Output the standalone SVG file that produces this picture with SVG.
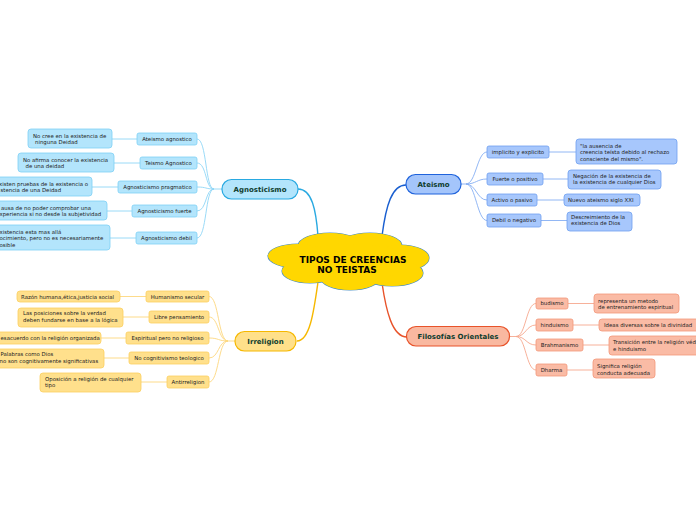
<svg xmlns="http://www.w3.org/2000/svg" width="696" height="520" viewBox="0 0 696 520">
<defs>
<style>
text{font-family:"DejaVu Sans","Liberation Sans",sans-serif;font-size:5.4px;fill:#222}
.main{font-size:7px;font-weight:bold;fill:#0f3d2e;text-anchor:middle}
.c{text-anchor:middle}
.ctr{font-size:9px;font-weight:bold;fill:#000;text-anchor:middle}
.ag{fill:#b3e5fc;stroke:#7fd0f5;stroke-width:0.8}
.at{fill:#a7c7fc;stroke:#6f9ff0;stroke-width:0.8}
.ir{fill:#ffe08c;stroke:#fbcf60;stroke-width:0.8}
.fo{fill:#fabba5;stroke:#f3977a;stroke-width:0.8}
.lag{fill:none;stroke:#8fd6f6;stroke-width:0.9}
.lat{fill:none;stroke:#86aff3;stroke-width:0.9}
.lir{fill:none;stroke:#fdd77e;stroke-width:0.9}
.lfo{fill:none;stroke:#f6a88e;stroke-width:0.9}
</style>
</defs>
<rect width="696" height="520" fill="#fff"/>
<g id="connectors">
<path d="M298,189 C312,189 316,210 318,236" fill="none" stroke="#29a9e1" stroke-width="1.4"/>
<path d="M406,185 C392,185 386,205 382,236" fill="none" stroke="#1a5fd0" stroke-width="1.4"/>
<path d="M297,341 C310,341 314,310 318,282" fill="none" stroke="#f6b800" stroke-width="1.4"/>
<path d="M382,283 C386,310 392,337 407,337" fill="none" stroke="#e8532a" stroke-width="1.4"/>
<g class="lag">
<path d="M214,189 H222"/>
<path d="M197,139 C207,139 205,189 214,189"/>
<path d="M197,163 C207,163 205,189 214,189"/>
<path d="M197,187 C207,187 205,189 214,189"/>
<path d="M197,211 C207,211 205,189 214,189"/>
<path d="M197,238 C207,238 205,189 214,189"/>
<path d="M112,139 H137 M114,163 H140 M92,187 H118 M107,211 H132 M110,238 H136"/>
</g>
<g class="lir">
<path d="M228,341 H235"/>
<path d="M209,296.5 C219,296.5 218,341 228,341"/>
<path d="M209,317 C219,317 218,341 228,341"/>
<path d="M209,338 C219,338 218,341 228,341"/>
<path d="M209,358 C219,358 218,341 228,341"/>
<path d="M209,382 C219,382 218,341 228,341"/>
<path d="M120,296.5 H146 M123,317 H149 M101,338 H126 M104,358 H129 M141,382 H167"/>
</g>
<g class="lat">
<path d="M461,184 H466"/>
<path d="M466,184 C476,184 477,152 487,152"/>
<path d="M466,184 C476,184 477,179 487,179"/>
<path d="M466,184 C476,184 477,200 487,200"/>
<path d="M466,184 C476,184 477,220.5 487,220.5"/>
<path d="M549,152 H576 M543,179 H568 M537,200 H564 M541,220.5 H567"/>
</g>
<g class="lfo">
<path d="M510,336.5 H516"/>
<path d="M516,336.5 C526,336.5 526,303.5 536,303.5"/>
<path d="M516,336.5 C526,336.5 526,325 536,325"/>
<path d="M516,336.5 C526,336.5 526,345 536,345"/>
<path d="M516,336.5 C526,336.5 526,370 536,370"/>
<path d="M568,303.5 H594 M573,325 H599 M583,345 H609 M567,370 H593"/>
</g>
</g>
<g id="center">
<g fill="#ffd700" stroke="#4a8fc4" stroke-width="1.2">
<ellipse cx="330" cy="246" rx="32" ry="13"/>
<ellipse cx="370" cy="246" rx="32" ry="13"/>
<ellipse cx="298" cy="256" rx="30" ry="12"/>
<ellipse cx="400" cy="258" rx="29" ry="13"/>
<ellipse cx="310" cy="271" rx="28" ry="12"/>
<ellipse cx="350" cy="277" rx="30" ry="13"/>
<ellipse cx="392" cy="273" rx="31" ry="13"/>
</g>
<g fill="#ffd700">
<ellipse cx="330" cy="246" rx="32" ry="13"/>
<ellipse cx="370" cy="246" rx="32" ry="13"/>
<ellipse cx="298" cy="256" rx="30" ry="12"/>
<ellipse cx="400" cy="258" rx="29" ry="13"/>
<ellipse cx="310" cy="271" rx="28" ry="12"/>
<ellipse cx="350" cy="277" rx="30" ry="13"/>
<ellipse cx="392" cy="273" rx="31" ry="13"/>
<ellipse cx="350" cy="262" rx="62" ry="18"/>
</g>
<text class="ctr" x="353" y="262.5">TIPOS DE CREENCIAS</text>
<text class="ctr" x="347" y="273">NO TEISTAS</text>
</g>
<g id="agnosticismo">
<rect x="222" y="179.5" width="76" height="19.5" rx="9.5" fill="#b3e5fc" stroke="#29a9e1" stroke-width="1.2"/>
<text class="main" x="260" y="191.8">Agnosticismo</text>
</g>
<g id="ateismo">
<rect x="406" y="174.5" width="55" height="19.5" rx="9.5" fill="#a4c5fb" stroke="#1f63dc" stroke-width="1.2"/>
<text class="main" x="433.5" y="186.8">Ateismo</text>
</g>
<g id="irreligion">
<rect x="235" y="331.5" width="61" height="19.5" rx="9.5" fill="#ffe08a" stroke="#f6b800" stroke-width="1.2"/>
<text class="main" x="265.5" y="343.8">Irreligion</text>
</g>
<g id="filosofias">
<rect x="406.5" y="326.5" width="103" height="19.5" rx="9.5" fill="#f9b8a0" stroke="#e8532a" stroke-width="1.2"/>
<text class="main" x="458" y="338.8">Filosofías Orientales</text>
</g>
<g id="ag1"><rect class="ag" x="137" y="133" width="60" height="12" rx="2"/><text class="c" x="167" y="140.9">Ateismo agnostico</text></g>
<g id="ag2"><rect class="ag" x="140" y="157" width="57" height="12" rx="2"/><text class="c" x="168.5" y="164.9">Teismo Agnostico</text></g>
<g id="ag3"><rect class="ag" x="118" y="181" width="79" height="12" rx="2"/><text class="c" x="157.5" y="188.9">Agnosticismo pragmatico</text></g>
<g id="ag4"><rect class="ag" x="132" y="205" width="65" height="12" rx="2"/><text class="c" x="164.5" y="212.9">Agnosticismo fuerte</text></g>
<g id="ag5"><rect class="ag" x="136" y="232" width="61" height="12" rx="2"/><text class="c" x="166.5" y="239.9">Agnosticismo debil</text></g>
<g id="agl1"><rect class="ag" x="28" y="129" width="84" height="19" rx="3"/><text x="33" y="137.5">No cree en la existencia de</text><text x="35" y="144.2">ninguna Deidad</text></g>
<g id="agl2"><rect class="ag" x="18" y="153" width="96" height="19" rx="3"/><text x="23" y="161.5">No afirma conocer la existencia</text><text x="25.5" y="168.2">de una deidad</text></g>
<g id="agl3"><rect class="ag" x="-5" y="177" width="97" height="19" rx="3"/><text x="-1" y="185.5">xisten pruebas de la existencia o</text><text x="0.5" y="192.2">stencia de una Deidad</text></g>
<g id="agl4"><rect class="ag" x="-5" y="201" width="112" height="19" rx="3"/><text x="1" y="209.5">ausa de no poder comprobar una</text><text x="-0.5" y="216.2">xperiencia si no desde la subjetividad</text></g>
<g id="agl5"><rect class="ag" x="-5" y="225" width="115" height="25" rx="3"/><text x="-0.5" y="233.5">xistencia esta mas allá</text><text x="-0.5" y="240.2">ocimiento, pero no es necesariamente</text><text x="-0.5" y="246.9">osible</text></g>
<g id="ir1"><rect class="ir" x="146" y="291" width="63" height="11" rx="2"/><text class="c" x="177.5" y="298.6">Humanismo secular</text></g>
<g id="ir2"><rect class="ir" x="149" y="311" width="60" height="12" rx="2"/><text class="c" x="179" y="318.9">Libre pensamiento</text></g>
<g id="ir3"><rect class="ir" x="126" y="332" width="83" height="12" rx="2"/><text class="c" x="167.5" y="339.9">Espiritual pero no religioso</text></g>
<g id="ir4"><rect class="ir" x="129" y="352" width="80" height="12" rx="2"/><text class="c" x="169" y="359.9">No cognitivismo teologico</text></g>
<g id="ir5"><rect class="ir" x="167" y="376" width="42" height="12" rx="2"/><text class="c" x="188" y="383.9">Antirreligion</text></g>
<g id="irl1"><rect class="ir" x="17" y="291" width="103" height="11" rx="3"/><text x="21" y="298.6">Razón humana,ética,justicia social</text></g>
<g id="irl2"><rect class="ir" x="18" y="308" width="105" height="19" rx="3"/><text x="23" y="315">Las posiciones sobre la verdad</text><text x="23" y="321.7">deben fundarse en base a la lógica</text></g>
<g id="irl3"><rect class="ir" x="-5" y="332" width="106" height="12" rx="3"/><text x="0.5" y="339.9">esacuerdo con la religión organizada</text></g>
<g id="irl4"><rect class="ir" x="-5" y="349" width="109" height="19" rx="3"/><text x="0.5" y="356">Palabras como Dios</text><text x="-0.5" y="362.7">no son cognitivamente significativas</text></g>
<g id="irl5"><rect class="ir" x="40" y="373" width="101" height="19" rx="3"/><text x="45" y="380.5">Oposición a religión de cualquier</text><text x="45" y="387.2">tipo</text></g>
<g id="at1"><rect class="at" x="487" y="146" width="62" height="12" rx="2"/><text class="c" x="518" y="153.9">implicito y explicito</text></g>
<g id="at2"><rect class="at" x="487" y="173" width="56" height="12" rx="2"/><text class="c" x="515" y="180.9">Fuerte o positivo</text></g>
<g id="at3"><rect class="at" x="487" y="194" width="50" height="12" rx="2"/><text class="c" x="512" y="201.9">Activo o pasivo</text></g>
<g id="at4"><rect class="at" x="487" y="214" width="54" height="13" rx="2"/><text class="c" x="514" y="222.4">Debil o negativo</text></g>
<g id="atl1"><rect class="at" x="576" y="139" width="101" height="25" rx="3"/><text x="580" y="147.5">"la ausencia de</text><text x="580" y="154.2">creencia teísta debido al rechazo</text><text x="580" y="160.9">consciente del mismo".</text></g>
<g id="atl2"><rect class="at" x="568" y="170" width="93" height="19" rx="3"/><text x="573" y="177.5">Negación de la existencia de</text><text x="573" y="184.4">la existencia de cualquier Dios</text></g>
<g id="atl3"><rect class="at" x="564" y="194" width="76" height="12" rx="3"/><text x="568" y="201.9">Nuevo ateismo siglo XXI</text></g>
<g id="atl4"><rect class="at" x="567" y="212" width="65" height="19" rx="3"/><text x="571" y="218.6">Descreimiento de la</text><text x="571" y="225.3">existencia de Dios</text></g>
<g id="fo1"><rect class="fo" x="536" y="298" width="32" height="11" rx="2"/><text class="c" x="552" y="305.4">budismo</text></g>
<g id="fo2"><rect class="fo" x="536" y="319" width="37" height="12" rx="2"/><text class="c" x="554.5" y="326.9">hinduismo</text></g>
<g id="fo3"><rect class="fo" x="536" y="339" width="47" height="12" rx="2"/><text class="c" x="559.5" y="346.9">Brahmanismo</text></g>
<g id="fo4"><rect class="fo" x="536" y="364" width="31" height="12" rx="2"/><text class="c" x="551.5" y="371.9">Dharma</text></g>
<g id="fol1"><rect class="fo" x="594" y="294" width="85" height="19" rx="3"/><text x="598" y="302.5">representa un metodo</text><text x="598" y="309">de entrenamiento espiritual</text></g>
<g id="fol2"><rect class="fo" x="599" y="319" width="100" height="12" rx="3"/><text x="604" y="326.9">Ideas diversas sobre la divinidad</text></g>
<g id="fol3"><rect class="fo" x="609" y="336" width="92" height="19" rx="3"/><text x="613" y="344">Transición entre la religión védica</text><text x="613" y="350.8">e hinduismo</text></g>
<g id="fol4"><rect class="fo" x="593" y="359" width="62" height="19" rx="3"/><text x="597" y="367.8">Significa religión</text><text x="597" y="374.6">conducta adecuada</text></g>
</svg>
